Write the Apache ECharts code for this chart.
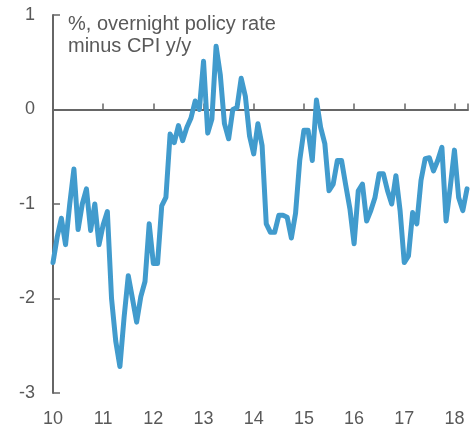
<!DOCTYPE html>
<html>
<head>
<meta charset="utf-8">
<script src="https://cdn.jsdelivr.net/npm/echarts@6/dist/echarts.min.js"></script>
<style>
  html, body { margin: 0; padding: 0; background: #fff; }
  #chart { width: 474px; height: 430px; }
</style>
</head>
<body>
<div id="chart"></div>
<script>
// monthly, starting Jan 2010
var startYear = 2010;
var rateValues = [
  -1.62, -1.35, -1.15, -1.43, -1.0, -0.63, -1.27, -1.0, -0.84, -1.28, -1.0, -1.43,
  -1.22, -1.08, -2.0, -2.45, -2.72, -2.2, -1.76, -2.0, -2.25, -1.98, -1.82, -1.21,
  -1.63, -1.63, -1.02, -0.93, -0.26, -0.35, -0.17, -0.33, -0.19, -0.09, 0.09, 0.0,
  0.51, -0.25, -0.1, 0.67, 0.37, -0.15, -0.31, 0.0, 0.02, 0.33, 0.14, -0.28,
  -0.47, -0.15, -0.38, -1.21, -1.3, -1.3, -1.12, -1.12, -1.14, -1.36, -1.1, -0.54,
  -0.22, -0.22, -0.54, 0.1, -0.19, -0.36, -0.86, -0.79, -0.54, -0.54, -0.8, -1.05,
  -1.42, -0.86, -0.79, -1.18, -1.07, -0.93, -0.68, -0.68, -0.86, -1.0, -0.7, -1.07,
  -1.62, -1.55, -1.09, -1.21, -0.75, -0.52, -0.51, -0.65, -0.54, -0.4, -1.18, -0.82,
  -0.43, -0.93, -1.07, -0.84
];
var yearTicks = [2010, 2011, 2012, 2013, 2014, 2015, 2016, 2017, 2018];
var titleLines = ["%, overnight policy rate", "minus CPI y/y"];

(function() {
  var myChart = echarts.init(document.getElementById("chart"));

  var seriesData = rateValues.map(function(v, i) {
    return [startYear + i / 12, v];
  });

  var axisColor = "#666666";
  var textColor = "#595959";
  var font = "Liberation Sans, Arial, sans-serif";

  var option = {
    animation: false,
    backgroundColor: "#ffffff",
    title: {
      text: titleLines.join("\n"),
      left: 63,
      top: 8,
      textStyle: {
        color: textColor,
        fontSize: 20,
        fontWeight: "normal",
        fontFamily: font,
        lineHeight: 22,
      },
    },
    grid: {
      left: 53,
      right: 6,
      top: 15,
      bottom: 37,
    },
    xAxis: [
      {
        type: "value",
        min: yearTicks[0],
        max: 2018.27,
        interval: 1,
        axisLine: { show: false },
        axisTick: { show: false },
        splitLine: { show: false },
        axisLabel: {
          color: textColor,
          fontSize: 18,
          fontFamily: font,
          margin: 17,
          showMaxLabel: false,
          formatter: function(v) {
            return yearTicks.indexOf(v) >= 0 ? String(v % 100) : "";
          },
        },
      },
      {
        // zero line with upward ticks
        type: "value",
        min: yearTicks[0],
        max: 2018.27,
        interval: 1,
        position: "bottom",
        axisLine: {
          onZero: true,
          onZeroAxisIndex: 0,
          lineStyle: { color: axisColor, width: 2 },
        },
        axisTick: {
          inside: true,
          length: 6,
          lineStyle: { color: axisColor, width: 1.5 },
        },
        axisLabel: { show: false },
        splitLine: { show: false },
      },
    ],
    yAxis: {
      type: "value",
      min: -3,
      max: 1,
      interval: 1,
      axisLine: {
        show: true,
        onZero: false,
        lineStyle: { color: axisColor, width: 2 },
      },
      axisTick: {
        show: true,
        inside: true,
        length: 7,
        lineStyle: { color: axisColor, width: 1.5 },
      },
      splitLine: { show: false },
      axisLabel: {
        color: textColor,
        fontSize: 18,
        fontFamily: font,
        margin: 18,
      },
    },
    series: [
      {
        type: "line",
        xAxisIndex: 0,
        data: seriesData,
        showSymbol: false,
        symbol: "none",
        lineStyle: { color: "#419bcd", width: 5, join: "round", cap: "round" },
      },
    ],
  };

  myChart.setOption(option);
  window.addEventListener("resize", function() {
    myChart.resize();
  });
})();
</script>
</body>
</html>
